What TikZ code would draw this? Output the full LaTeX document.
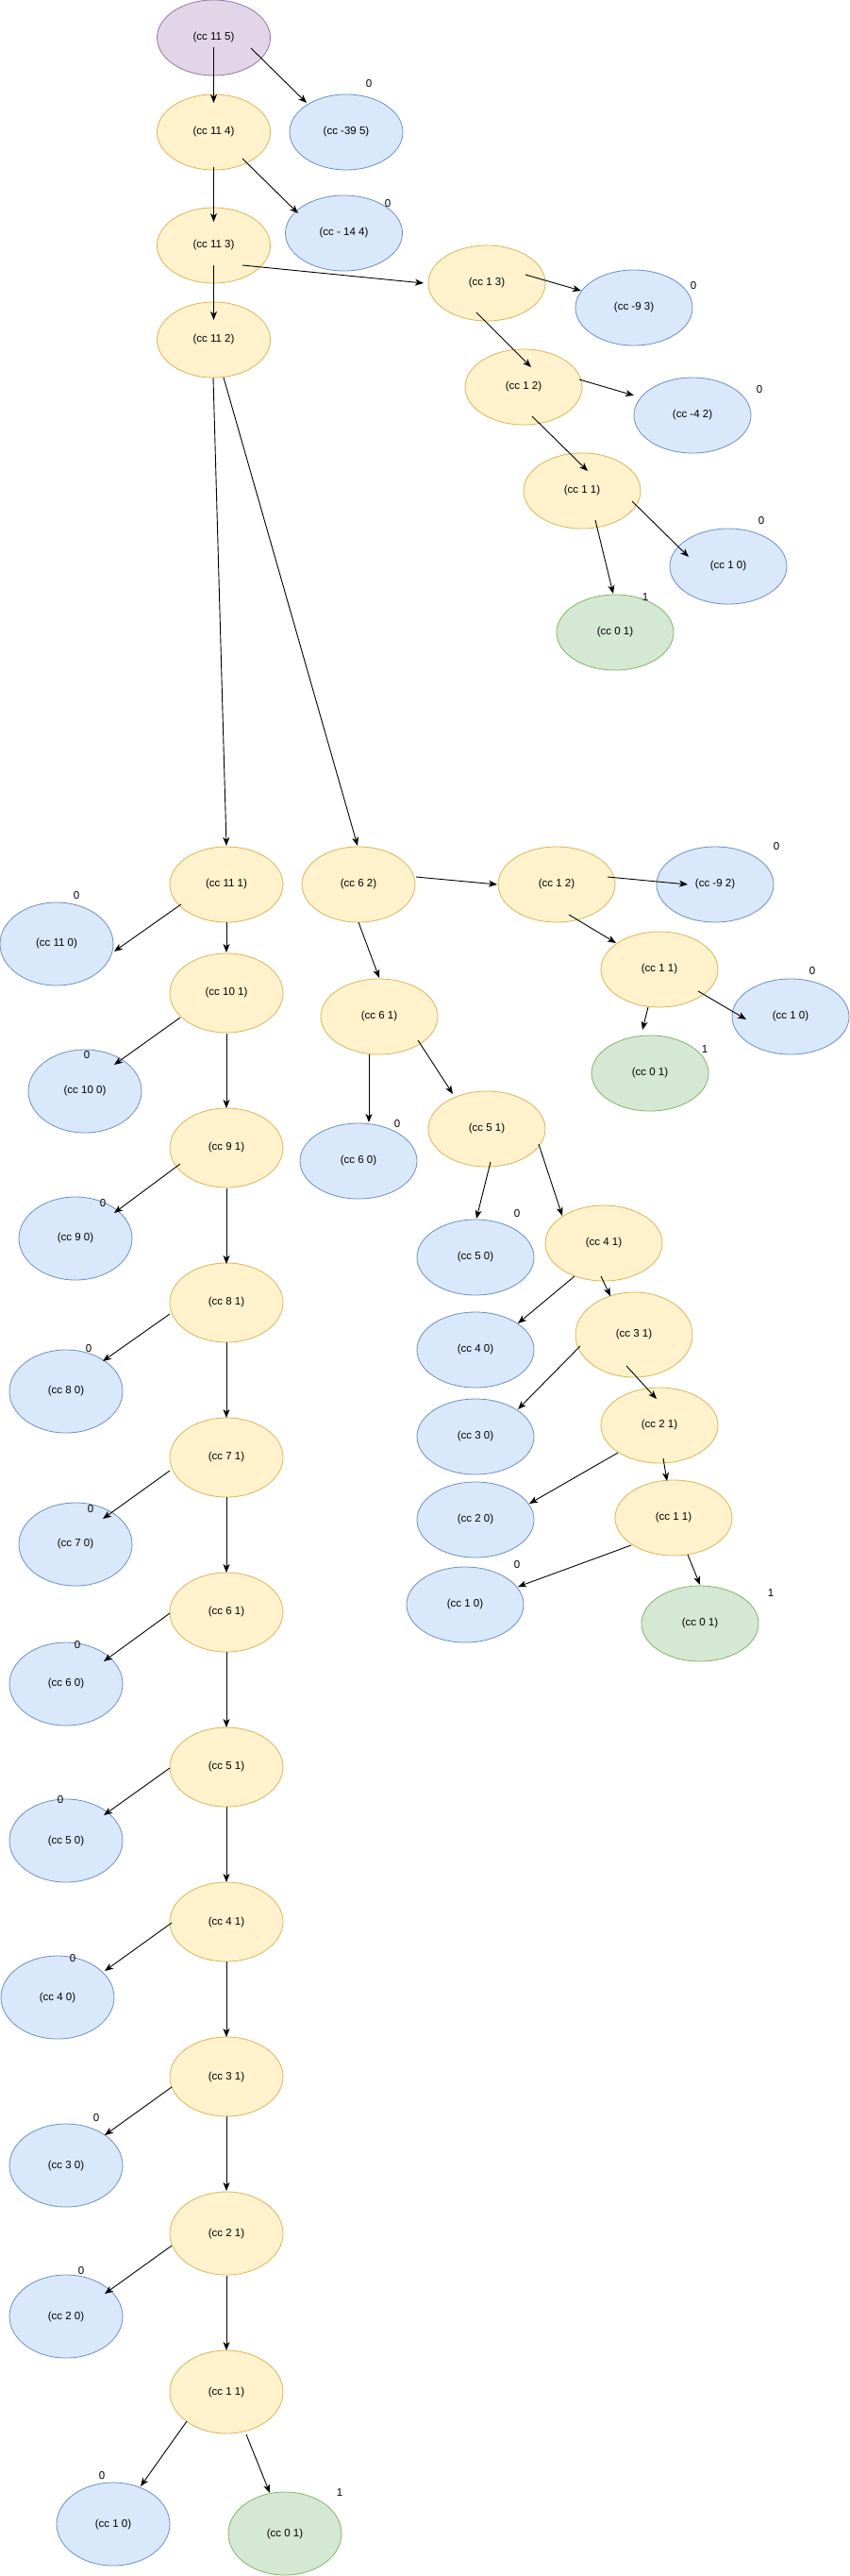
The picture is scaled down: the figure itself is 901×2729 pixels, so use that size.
\documentclass[tikz,border=0pt]{standalone}
\usepackage{fontspec}
\setmainfont{Liberation Sans}
\usetikzlibrary{shapes.geometric,arrows.meta,calc}
\definecolor{yfill}{HTML}{FFF2CC}\definecolor{ydraw}{HTML}{D6B656}
\definecolor{bfill}{HTML}{DAE8FC}\definecolor{bdraw}{HTML}{6C8EBF}
\definecolor{gfill}{HTML}{D5E8D4}\definecolor{gdraw}{HTML}{82B366}
\definecolor{pfill}{HTML}{E1D5E7}\definecolor{pdraw}{HTML}{9673A6}
\tikzset{
 cc/.style={ellipse, line width=0.8pt, minimum width=120pt, minimum height=80pt, inner sep=0pt, outer sep=0pt, font=\fontsize{11.5}{13}\selectfont},
 yel/.style={cc, fill=yfill, draw=ydraw},
 blu/.style={cc, fill=bfill, draw=bdraw},
 grn/.style={cc, fill=gfill, draw=gdraw},
 pur/.style={cc, fill=pfill, draw=pdraw},
 wide/.style={minimum width=124pt},
 hc/.style={minimum height=84pt},
 hb/.style={minimum height=88pt},
 lbl/.style={font=\fontsize{11.5}{13}\selectfont, inner sep=0pt},
 arr/.style={-{Stealth[length=9pt,width=7pt,inset=2.5pt]}, line width=0.9pt}
}
\newcommand\conn[6]{\draw[arr] ($(#1)+(#2,#3)$) -- ($(#4)+(#5,#6)$);}
\begin{document}
\begin{tikzpicture}[x=1pt,y=-1pt]
\useasboundingbox[fill=white] (0,0) rectangle (901,2729);
% top part
\node[pur] (t115) at (226.5,40) {(cc 11 5)};
\node[yel] (t114) at (226.5,140) {(cc 11 4)};
\node[blu] (tm395) at (367,140) {(cc -39 5)};
\node[yel] (t113) at (226.5,260) {(cc 11 3)};
\node[blu,wide] (tm144) at (364.5,247) {(cc - 14 4)};
\node[yel] (t112) at (226.5,360) {(cc 11 2)};
\node[yel,wide] (a13) at (516,300) {(cc 1 3)};
\node[blu,wide] (am93) at (672,326) {(cc -9 3)};
\node[yel,wide] (a12) at (555,410) {(cc 1 2)};
\node[blu,wide] (am42) at (734,440) {(cc -4 2)};
\node[yel,wide] (a11) at (617,520) {(cc 1 1)};
\node[blu,wide] (a10) at (772,600) {(cc 1 0)};
\node[grn,wide] (a01) at (652,670) {(cc 0 1)};
\node[lbl] (l1) at (391,89) {0};
\node[lbl] (l2) at (411,216) {0};
\node[lbl] (l3) at (735,303) {0};
\node[lbl] (l4) at (805,413) {0};
\node[lbl] (l5) at (807,552) {0};
\node[lbl] (l6) at (684,633) {1};
% middle part
\node[yel] (b62) at (380,937) {(cc 6 2)};
\node[yel,wide] (b12) at (590,937) {(cc 1 2)};
\node[blu,wide] (bm92) at (758,937) {(cc -9 2)};
\node[yel,wide] (b11) at (699,1027) {(cc 1 1)};
\node[blu,wide] (b10) at (838,1077) {(cc 1 0)};
\node[grn,wide] (b01) at (689,1137) {(cc 0 1)};
\node[yel,wide] (b61) at (402,1077) {(cc 6 1)};
\node[blu,wide] (b60) at (380,1230) {(cc 6 0)};
\node[yel,wide] (b51) at (516,1196) {(cc 5 1)};
\node[blu,wide] (b50) at (504,1332) {(cc 5 0)};
\node[yel,wide] (b41) at (640,1317) {(cc 4 1)};
\node[blu,wide] (b40) at (504,1430) {(cc 4 0)};
\node[yel,wide,minimum height=90pt] (b31) at (672,1414) {(cc 3 1)};
\node[blu,wide] (b30) at (504,1522) {(cc 3 0)};
\node[yel,wide] (b21) at (699,1510) {(cc 2 1)};
\node[blu,wide] (b20) at (504,1610) {(cc 2 0)};
\node[yel,wide] (c11) at (714,1608) {(cc 1 1)};
\node[blu,wide] (c10) at (493,1700) {(cc 1 0)};
\node[grn,wide] (c01) at (742,1720) {(cc 0 1)};
\node[lbl] (m1) at (823,897) {0};
\node[lbl] (m2) at (861,1029) {0};
\node[lbl] (m3) at (747,1112) {1};
\node[lbl] (m4) at (421,1191) {0};
\node[lbl] (m5) at (548,1286) {0};
\node[lbl] (m6) at (548,1658) {0};
\node[lbl] (m7) at (817,1688) {1};
% left column
\node[yel] (L111) at (240,937) {(cc 11 1)};
\node[blu,hb] (L110) at (60,1000) {(cc 11 0)};
\node[yel,hc] (L101) at (240,1052) {(cc 10 1)};
\node[blu,hb] (L100) at (90,1156) {(cc 10 0)};
\node[yel,hc] (L91) at (240,1216) {(cc 9 1)};
\node[blu,hb] (L90) at (80,1312) {(cc 9 0)};
\node[yel,hc] (L81) at (240,1380) {(cc 8 1)};
\node[blu,hb] (L80) at (70,1474) {(cc 8 0)};
\node[yel,hc] (L71) at (240,1544) {(cc 7 1)};
\node[blu,hb] (L70) at (80,1636) {(cc 7 0)};
\node[yel,hc] (L61) at (240,1708) {(cc 6 1)};
\node[blu,hb] (L60) at (70,1784) {(cc 6 0)};
\node[yel,hc] (L51) at (240,1872) {(cc 5 1)};
\node[blu,hb] (L50) at (70,1950) {(cc 5 0)};
\node[yel,hc] (L41) at (240,2036) {(cc 4 1)};
\node[blu,hb] (L40) at (61,2116) {(cc 4 0)};
\node[yel,hc] (L31) at (240,2200) {(cc 3 1)};
\node[blu,hb] (L30) at (70,2294) {(cc 3 0)};
\node[yel,hb] (L21) at (240,2366) {(cc 2 1)};
\node[blu,hb] (L20) at (70,2454) {(cc 2 0)};
\node[yel,hb] (L11) at (240,2534) {(cc 1 1)};
\node[blu,hb] (L10) at (120,2674) {(cc 1 0)};
\node[grn,hb] (L01) at (302,2684) {(cc 0 1)};
\node[lbl] (n1) at (81,949) {0};
\node[lbl] (n2) at (92,1118) {0};
\node[lbl] (n3) at (109,1275) {0};
\node[lbl] (n4) at (94,1429) {0};
\node[lbl] (n5) at (96,1599) {0};
\node[lbl] (n6) at (82,1743) {0};
\node[lbl] (n7) at (64,1907) {0};
\node[lbl] (n8) at (77,2075) {0};
\node[lbl] (n9) at (102,2244) {0};
\node[lbl] (n10) at (86,2406) {0};
\node[lbl] (n11) at (108,2623) {0};
\node[lbl] (n12) at (360,2641) {1};
% connectors: top
\conn{t115}{0}{10}{t114}{0}{-31}
\conn{t115}{39.5}{11}{tm395}{-42}{-31}
\conn{t114}{0}{37}{t113}{0}{-25}
\conn{t114}{30.5}{28}{tm144}{-48.5}{-21}
\conn{t113}{0}{21}{t112}{0}{-21}
\conn{t113}{30.5}{21}{a13}{-67}{0}
\conn{a13}{41}{-9}{am93}{-56}{-18}
\conn{a13}{-11}{31}{a12}{8}{-21}
\conn{a12}{59}{-8}{am42}{-62}{-21}
\conn{a12}{9}{31}{a11}{6}{-21}
\conn{a11}{53}{11}{a10}{-42}{-10}
\conn{a11}{14}{31}{a01}{-2}{-41}
\conn{t112}{-0.5}{40}{L111}{0}{-41}
\conn{t112}{10.5}{40}{b62}{-1}{-41}
% middle
\conn{b62}{61}{-8}{b12}{-63}{0}
\conn{b12}{54}{-8}{bm92}{-29}{0}
\conn{b12}{13}{32}{b11}{-46}{-28}
\conn{b11}{41}{23}{b10}{-47}{3}
\conn{b11}{-12}{40}{b01}{-8}{-46}
\conn{b62}{0}{40}{b61}{0}{-41}
\conn{b61}{-11}{40}{b60}{11}{-41}
\conn{b61}{41}{25}{b51}{-36}{-37}
\conn{b51}{4}{35}{b50}{1}{-41}
\conn{b51}{55}{16}{b41}{-44}{-29}
\conn{b41}{-31}{35}{b40}{45}{-28}
\conn{b41}{-3}{35}{b31}{-25}{-41}
\conn{b31}{-57}{12}{b30}{45}{-29}
\conn{b31}{-8}{33}{b21}{-3}{-28}
\conn{b21}{-44}{29}{b20}{57}{-17}
\conn{b21}{4}{35}{c11}{-7}{-39}
\conn{c11}{-45}{29}{c10}{56}{-19}
\conn{c11}{15}{39}{c01}{0}{-41}
% left
\conn{L111}{-48}{21}{L110}{61}{8}
\conn{L111}{0}{40}{L101}{0}{-43}
\conn{L101}{-49}{26}{L100}{31}{-28}
\conn{L101}{0}{43}{L91}{0}{-42}
\conn{L91}{-49}{17}{L90}{41}{-27}
\conn{L91}{0}{43}{L81}{0}{-41}
\conn{L81}{-60}{12}{L80}{39}{-32}
\conn{L81}{0}{42}{L71}{0}{-42}
\conn{L71}{-60}{14}{L70}{29}{-27}
\conn{L71}{0}{42}{L61}{0}{-42}
\conn{L61}{-60}{1}{L60}{40}{-24}
\conn{L61}{0}{42}{L51}{0}{-42}
\conn{L51}{-60}{1}{L50}{40}{-27}
\conn{L51}{0}{42}{L41}{0}{-42}
\conn{L41}{-58}{1}{L40}{50}{-28}
\conn{L41}{0}{42}{L31}{0}{-42}
\conn{L31}{-58}{11}{L30}{41}{-32}
\conn{L31}{0}{42}{L21}{0}{-45}
\conn{L21}{-58}{13}{L20}{41}{-24}
\conn{L21}{0}{45}{L11}{0}{-44}
\conn{L11}{-42}{31}{L10}{29}{-40}
\conn{L11}{21}{45}{L01}{-16}{-43}
\end{tikzpicture}
\end{document}
